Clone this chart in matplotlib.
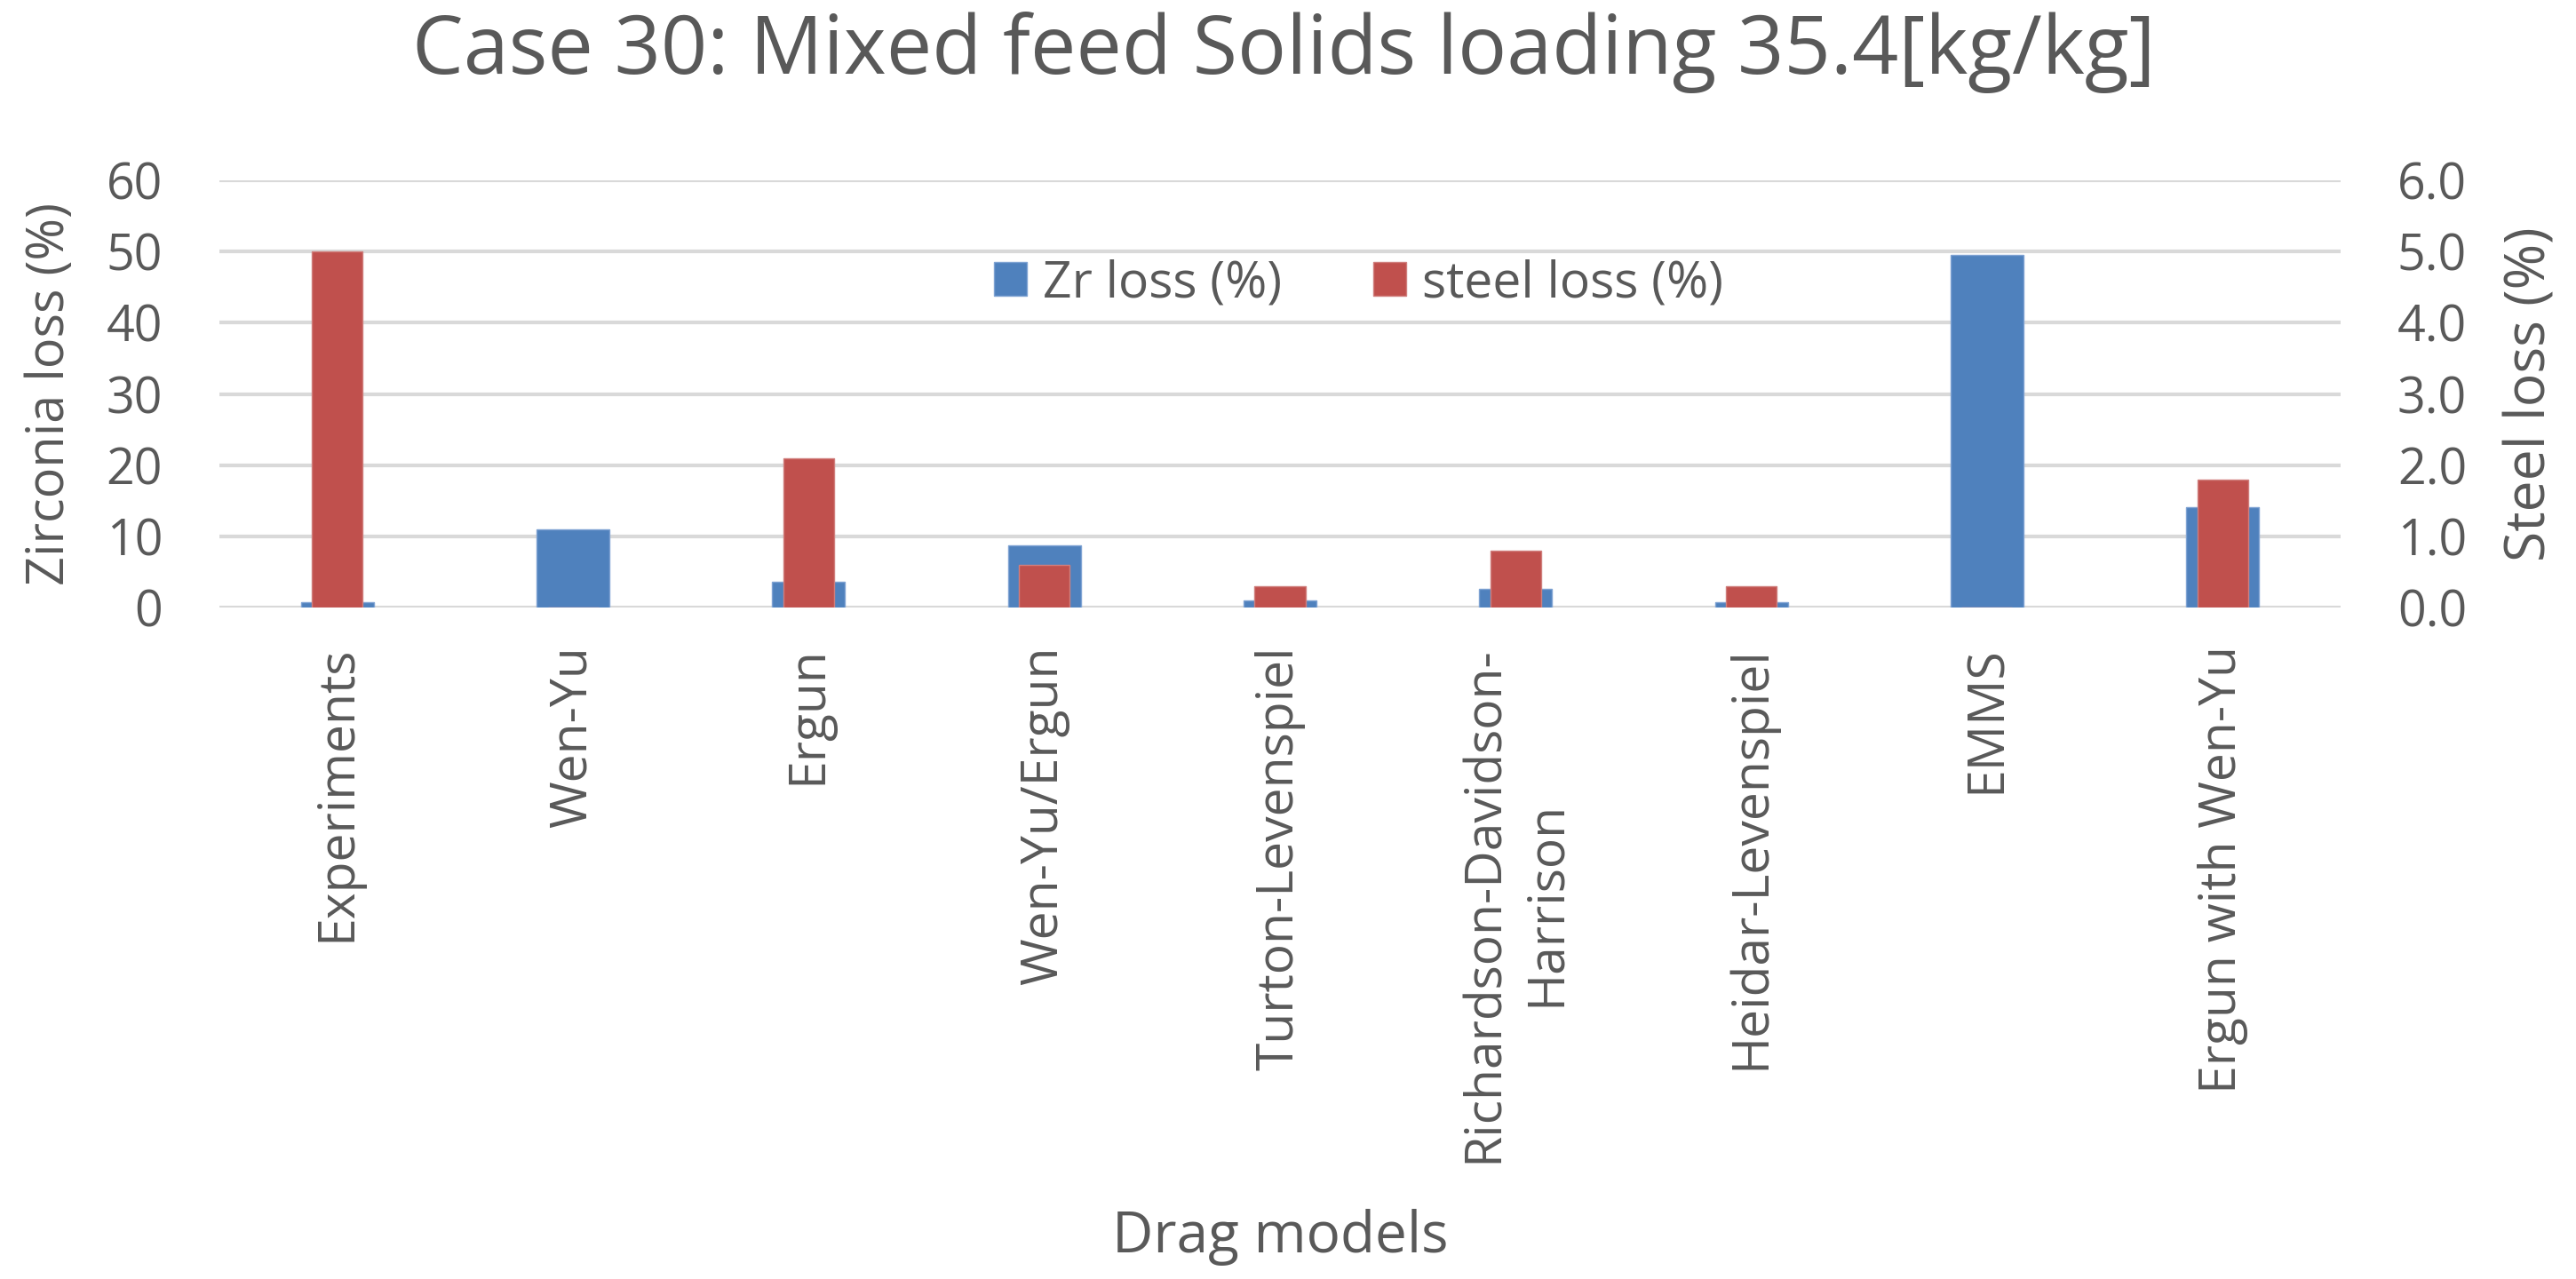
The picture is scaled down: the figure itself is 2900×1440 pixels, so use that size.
import numpy as np
import matplotlib
matplotlib.use('Agg')
import matplotlib.pyplot as plt

# 데이터
models = ['Experiments', 'Wen-Yu', 'Ergun', 'Wen-Yu/Ergun', 'Turton-Levenspiel',
          'Richardson-Davidson-\nHarrison', 'Heidar-Levenspiel', 'EMMS', 'Ergun with Wen-Yu']
zrLoss = [0.7, 11.0, 3.6, 8.7, 1.0, 2.6, 0.7, 49.5, 14.1]       # 왼쪽 축 (%)
steelLoss = [5.0, 0.0, 2.1, 0.6, 0.3, 0.8, 0.3, 0.0, 1.8]      # 오른쪽 축 (%)
leftTicks = [0, 10, 20, 30, 40, 50, 60]
rightTicks = [0.0, 1.0, 2.0, 3.0, 4.0, 5.0, 6.0]

BLUE = '#4F81BD'
RED = '#C0504D'
GRID = '#D9D9D9'
TXT = '#595959'
FONT = ['Open Sans', 'DejaVu Sans']

plt.rcParams['font.family'] = FONT
plt.rcParams['text.color'] = TXT

fig = plt.figure(figsize=(29, 14.4), dpi=100)
ax1 = fig.add_axes([0.0852, 0.525, 0.8234, 0.334])
ax2 = ax1.twinx()

x = np.arange(len(models))
ax1.bar(x, zrLoss, width=0.31, color=BLUE, edgecolor='#7FA3D3', linewidth=1.0,
        label='Zr loss (%)', zorder=3)
ax2.bar(x, steelLoss, width=0.215, color=RED, edgecolor='#D07F7D', linewidth=1.0,
        label='steel loss (%)', zorder=3)

ax1.set_xlim(-0.5, len(models) - 0.5)
ax1.set_ylim(0, 60)
ax2.set_ylim(0, 6)
ax1.set_yticks(leftTicks)
ax2.set_yticks(rightTicks)
ax2.set_yticklabels(['%.1f' % v for v in rightTicks])

ax1.set_axisbelow(True)
ax1.yaxis.grid(True, color=GRID, linewidth=3)
for ax in (ax1, ax2):
    for s in ax.spines.values():
        s.set_visible(False)
    ax.tick_params(length=0, colors=TXT, labelsize=40, pad=46)

ax1.set_xticks(x)
ax1.set_xticklabels(models, rotation=90, fontsize=41, multialignment='center',
                    linespacing=1.3)
ax1.tick_params(axis='x', pad=31)

# 축 제목
ax1.set_ylabel('Zirconia loss (%)', fontsize=41.5, color=TXT)
ax1.yaxis.set_label_coords(-0.0674, 0.5)
ax2.set_ylabel('Steel loss (%)', fontsize=45, color=TXT)
ax2.yaxis.set_label_coords(1.0767, 0.5)
fig.text(0.497, 1 - 1410 / 1440, 'Drag models', ha='center', va='baseline',
         fontsize=46, color=TXT)
fig.text(0.4985, 1 - 83 / 1440, 'Case 30: Mixed feed Solids loading 35.4[kg/kg]',
         ha='center', va='baseline', fontsize=66, color=TXT)

h1, l1 = ax1.get_legend_handles_labels()
h2, l2 = ax2.get_legend_handles_labels()
leg = ax2.legend(h1 + h2, l1 + l2, loc='center', bbox_to_anchor=(0.537, 0.757),
                 ncol=2, frameon=False, fontsize=41, handlelength=0.65,
                 handleheight=0.65, handletextpad=0.32, columnspacing=1.8)
for t in leg.get_texts():
    t.set_color(TXT)

fig.savefig('out.png', dpi=100, facecolor='white')
